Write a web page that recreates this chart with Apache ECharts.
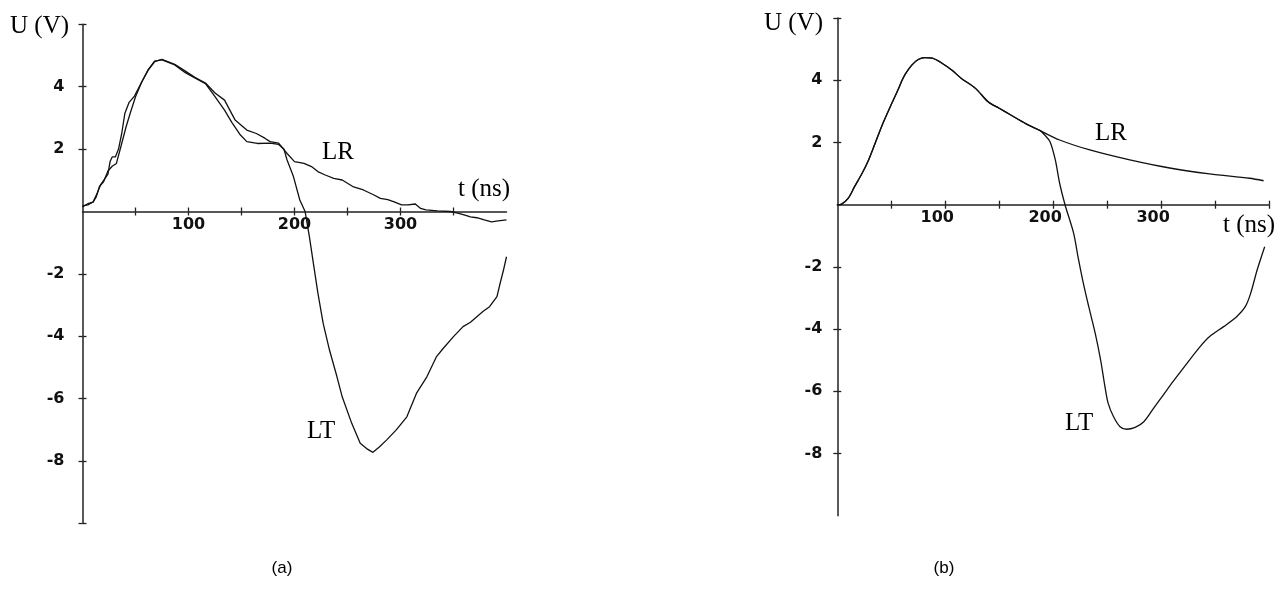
<!DOCTYPE html>
<html>
<head>
<meta charset="utf-8">
<script src="https://cdn.jsdelivr.net/npm/echarts@6/dist/echarts.min.js"></script>
<style>
  html, body { margin: 0; padding: 0; background: #fff; }
  #chart { width: 1281px; height: 598px; }
</style>
</head>
<body>
<div id="chart"></div>
<script>
// (a) measured traces, t in ns, U in V
const aLRTime = [0, 5, 10, 13, 16, 20, 24, 28, 32, 37, 41, 45, 50, 56, 62, 68, 75, 81, 87, 97,
  106, 116, 125, 134, 144, 150, 155, 164, 172, 177, 185, 193, 200, 209, 216, 222, 229, 237, 245, 255,
  265, 275, 281, 288, 294, 301, 307, 314, 319, 324, 335, 347, 354, 360, 366, 372, 379, 386, 392, 400]
const aLRVolt = [0.18, 0.21, 0.31, 0.47, 0.8, 0.96, 1.3, 1.45, 1.54, 2.18, 2.7, 3.15, 3.68, 4.16, 4.53, 4.8, 4.88, 4.8, 4.72, 4.5,
  4.3, 4.12, 3.8, 3.57, 2.93, 2.76, 2.61, 2.5, 2.35, 2.24, 2.19, 1.86, 1.6, 1.54, 1.44, 1.28, 1.17, 1.06, 1.01, 0.8,
  0.69, 0.53, 0.42, 0.38, 0.31, 0.21, 0.21, 0.24, 0.1, 0.05, 0.02, 0, -0.05, -0.11, -0.17, -0.2, -0.27, -0.33, -0.3, -0.27]

const aLTTime = [0, 5, 10, 14, 17, 20, 24, 26, 28, 31, 34, 37, 40, 44, 49, 56, 62, 68, 75, 81,
  87, 97, 106, 116, 125, 134, 141, 149, 155, 165, 177, 185, 190, 193, 199, 205, 210, 214, 218, 222,
  227, 233, 240, 245, 254, 262, 268, 274, 280, 287, 296, 306, 315, 325, 334, 340, 350, 359, 366, 372,
  378, 384, 391, 394, 397, 400]
const aLTVolt = [0.15, 0.25, 0.3, 0.6, 0.85, 1.0, 1.2, 1.6, 1.75, 1.75, 2.0, 2.5, 3.15, 3.5, 3.7, 4.16, 4.55, 4.82, 4.86, 4.78,
  4.7, 4.45, 4.28, 4.1, 3.68, 3.25, 2.85, 2.45, 2.24, 2.18, 2.19, 2.15, 2.0, 1.65, 1.12, 0.37, 0, -0.8, -1.7, -2.6,
  -3.58, -4.44, -5.29, -5.94, -6.79, -7.43, -7.6, -7.72, -7.55, -7.32, -7.0, -6.58, -5.83, -5.29, -4.65, -4.4, -4.01, -3.69, -3.55, -3.37,
  -3.2, -3.05, -2.73, -2.3, -1.9, -1.45]

// (b) computed curves, common rise then split
const bRiseTime = [0, 4, 10, 16, 23, 29, 35, 41, 47, 53, 57, 60, 63, 69, 75, 81, 88, 97, 106, 115, 128, 140, 150, 160, 175, 188]
const bRiseVolt = [0, 0.02, 0.2, 0.58, 1.01, 1.44, 1.97, 2.51, 2.99, 3.45, 3.75, 4.0, 4.2, 4.49, 4.67, 4.73, 4.71, 4.55, 4.33, 4.06, 3.74, 3.3, 3.1, 2.9, 2.6, 2.38]

const bLRTime = [206, 234, 271, 308, 345, 382, 395]
const bLRVolt = [2.08, 1.76, 1.44, 1.18, 0.99, 0.85, 0.77]

const bLTTime = [192, 197, 202, 206, 211, 219, 223, 228, 233, 239, 244, 248, 251, 256, 262, 268, 276, 284, 293, 302,
  311, 324, 336, 345, 358, 370, 378, 383, 389, 396]
const bLTVolt = [2.25, 2.03, 1.44, 0.69, 0, -0.92, -1.67, -2.53, -3.28, -4.14, -5.0, -5.85, -6.39, -6.82, -7.14, -7.22, -7.16, -6.98, -6.55, -6.12,
  -5.69, -5.1, -4.57, -4.24, -3.92, -3.6, -3.28, -2.85, -2.1, -1.35]

// ticks and labels
const xLabels = [100, 200, 300]
const aXTicks = [50, 100, 150, 200, 250, 300, 350]
const bXTicks = [50, 100, 150, 200, 250, 300, 350, 400]
const yLabels = [4, 2, -2, -4, -6, -8]
const aYTicks = [6, 4, 2, -2, -4, -6, -8, -10]
const bYTicks = [6, 4, 2, -2, -4, -6, -8]
const yMin = -10
const yMax = 6

const zip = (ts, vs) => ts.map((t, i) => [t, vs[i]])

const axisColor = '#222'
const labelFont = { fontFamily: 'DejaVu Sans', fontWeight: 'bold', fontSize: 16, color: '#111' }
const serif = 'Liberation Serif'

const gridA = { left: 82.5, top: 24.3, width: 424, height: 499.2 }
const gridB = { left: 837.3, top: 18.1, width: 431.7, height: 497.6 }

// x axis sits on U = 0: shift it up from the grid bottom
const zeroOffset = g => -g.height * (0 - yMin) / (yMax - yMin)

// main axis + a second one with inside ticks, so ticks cross the line
function xAxes(grid, g, ticks, labelPad) {
  const base = { type: 'value', gridIndex: grid, min: 0, max: 400, interval: 50, position: 'bottom',
    offset: zeroOffset(g), splitLine: { show: false } }
  return [
    { ...base,
      axisLine: { onZero: false, lineStyle: { color: axisColor, width: 1.5 } },
      axisTick: { length: 4, customValues: ticks, lineStyle: { color: axisColor, width: 1.3 } },
      axisLabel: { ...labelFont, customValues: xLabels, margin: 5, padding: labelPad } },
    { ...base,
      axisLine: { show: false, onZero: false },
      axisTick: { inside: true, length: 4, customValues: ticks, lineStyle: { color: axisColor, width: 1.3 } },
      axisLabel: { show: false } }
  ]
}
function yAxes(grid, ticks, margin) {
  const base = { type: 'value', gridIndex: grid, min: yMin, max: yMax, interval: 2, position: 'left', splitLine: { show: false } }
  return [
    { ...base,
      axisLine: { onZero: false, lineStyle: { color: axisColor, width: 1.5 } },
      axisTick: { length: 4, customValues: ticks, lineStyle: { color: axisColor, width: 1.3 } },
      axisLabel: { ...labelFont, customValues: yLabels, margin: margin } },
    { ...base,
      axisLine: { show: false, onZero: false },
      axisTick: { inside: true, length: 4, customValues: ticks, lineStyle: { color: axisColor, width: 1.3 } },
      axisLabel: { show: false } }
  ]
}

const xa = xAxes(0, gridA, aXTicks, [0, 0, 0, 0])
const xb = xAxes(1, gridB, bXTicks, [0, 16, 0, 0])
const ya = yAxes(0, aYTicks, 18)
const yb = yAxes(1, bYTicks, 15)

function trace(data, xi, yi, smooth) {
  return {
    type: 'line', data: data, xAxisIndex: xi, yAxisIndex: yi,
    showSymbol: false, smooth: smooth, silent: true,
    lineStyle: { color: '#111', width: 1.3 }
  }
}

function txt(text, x, y, opts) {
  return {
    type: 'text', x: x, y: y, silent: true,
    style: Object.assign({ text: text, fill: '#000', fontFamily: serif, fontSize: 25, align: 'left', verticalAlign: 'middle' }, opts)
  }
}

const chart = echarts.init(document.getElementById('chart'))
chart.setOption({
  animation: false,
  backgroundColor: '#fff',
  grid: [
    { ...gridA, outerBoundsMode: 'none' },
    { ...gridB, outerBoundsMode: 'none' }
  ],
  // order: 0 = a main, 1 = b main, 2 = a inner ticks, 3 = b inner ticks
  xAxis: [xa[0], xb[0], xa[1], xb[1]],
  yAxis: [ya[0], yb[0], ya[1], yb[1]],
  series: [
    trace(zip(aLRTime, aLRVolt), 0, 0, false),
    trace(zip(aLTTime, aLTVolt), 0, 0, false),
    trace(zip(bRiseTime, bRiseVolt).concat(zip(bLRTime, bLRVolt)), 1, 1, 0.3),
    trace(zip(bRiseTime, bRiseVolt).concat(zip(bLTTime, bLTVolt)), 1, 1, 0.3)
  ],
  graphic: [
    txt('U (V)', 10, 26),
    txt('LR', 322, 152),
    txt('LT', 307, 431),
    txt('t (ns)', 458, 189),
    txt('U (V)', 823, 23, { align: 'right' }),
    txt('LR', 1095, 133),
    txt('LT', 1065, 423),
    txt('t (ns)', 1223, 225),
    txt('(a)', 282, 568, { align: 'center', fontFamily: 'Liberation Sans', fontSize: 17 }),
    txt('(b)', 944, 568, { align: 'center', fontFamily: 'Liberation Sans', fontSize: 17 })
  ]
})
</script>
</body>
</html>
